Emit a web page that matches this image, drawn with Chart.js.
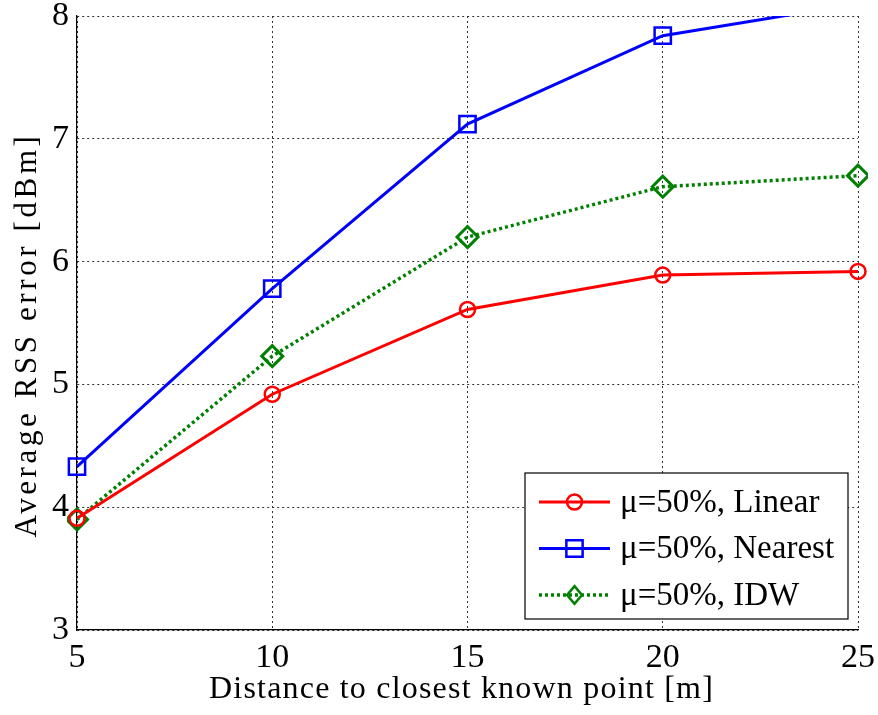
<!DOCTYPE html>
<html lang="en">
    <head>
        <meta charset="UTF-8">
        <title>Average RSS error</title>
        <style>
            body { margin: 0; background: #fff; }
        </style>
    </head>
    <body>
        <canvas id="myChart" width="878" height="715"></canvas>
        <script src="https://cdn.jsdelivr.net/npm/chart.js@4.4.1/dist/chart.umd.min.js"></script>
        <script>
            // values
            const distances = [5, 10, 15, 20, 25];
            const linear = [3.91, 4.92, 5.61, 5.89, 5.92];
            const nearest = [4.33, 5.78, 7.12, 7.84, 8.10];
            const idw = [3.90, 5.23, 6.20, 6.61, 6.70];
            const labels = ['\u03bc=50%, Linear', '\u03bc=50%, Nearest', '\u03bc=50%, IDW'];
            const xTitle = 'Distance to closest known point [m]';
            const yTitle = 'Average RSS error [dBm]';

            const serif = 'Liberation Serif, Times New Roman, serif';

            function toPoints(ys) {
                return distances.map(function (x, i) { return {x: x, y: ys[i]}; });
            }

            function marker(ctx, style, x, y, r) {
                ctx.beginPath();
                if (style === 'circle') {
                    ctx.arc(x, y, r, 0, Math.PI * 2);
                } else if (style === 'rect') {
                    const s = r * Math.SQRT1_2;
                    ctx.rect(x - s, y - s, 2 * s, 2 * s);
                } else {
                    const s = r * Math.SQRT1_2;
                    ctx.moveTo(x, y - s * 1.2);
                    ctx.lineTo(x + s, y);
                    ctx.lineTo(x, y + s * 1.2);
                    ctx.lineTo(x - s, y);
                    ctx.closePath();
                }
                ctx.stroke();
            }

            // axis titles (matlab export spreads the letters a bit) + boxed legend
            const extras = {
                id: 'extras',
                afterDraw: function (chart) {
                    const ctx = chart.ctx;
                    const area = chart.chartArea;
                    ctx.save();
                    ctx.fillStyle = '#000';
                    ctx.textAlign = 'center';
                    ctx.textBaseline = 'alphabetic';

                    ctx.font = '32px ' + serif;
                    ctx.letterSpacing = '1.2px';
                    ctx.fillText(xTitle, (area.left + area.right) / 2 - 6, 698);

                    ctx.save();
                    ctx.translate(36, (area.top + area.bottom) / 2 + 12);
                    ctx.rotate(-Math.PI / 2);
                    ctx.font = '31px ' + serif;
                    ctx.letterSpacing = '3.6px';
                    ctx.fillText(yTitle, 0, 0);
                    ctx.restore();

                    // legend box
                    const w = 323, h = 146;
                    const x0 = area.right - 10 - w;
                    const y0 = area.bottom - 11 - h;
                    ctx.letterSpacing = '0px';
                    ctx.fillStyle = '#fff';
                    ctx.fillRect(x0, y0, w, h);
                    ctx.strokeStyle = '#000';
                    ctx.lineWidth = 1.2;
                    ctx.strokeRect(x0, y0, w, h);
                    ctx.font = '33px ' + serif;
                    ctx.textAlign = 'left';
                    ctx.textBaseline = 'middle';
                    chart.data.datasets.forEach(function (ds, i) {
                        const cy = y0 + 29 + i * 46.5;
                        ctx.strokeStyle = ds.borderColor;
                        ctx.lineWidth = ds.borderWidth;
                        ctx.setLineDash(ds.borderDash || []);
                        ctx.beginPath();
                        ctx.moveTo(x0 + 14, cy);
                        ctx.lineTo(x0 + 85, cy);
                        ctx.stroke();
                        ctx.setLineDash([]);
                        ctx.lineWidth = 2.5;
                        marker(ctx, ds.pointStyle, x0 + 49.5, cy, ds.pointRadius);
                        ctx.fillStyle = '#000';
                        ctx.fillText(ds.label, x0 + 95, cy + 1);
                    });
                    ctx.restore();
                }
            };

            const ctx = document.getElementById('myChart').getContext('2d');
            new Chart(ctx, {
                type: 'line',
                data: {
                    datasets: [{
                        label: labels[0],
                        data: toPoints(linear),
                        borderColor: '#ff0000',
                        borderWidth: 3,
                        pointStyle: 'circle',
                        pointRadius: 7.5,
                        pointBorderWidth: 2.5,
                        pointBackgroundColor: 'rgba(0,0,0,0)',
                        fill: false
                    }, {
                        label: labels[1],
                        data: toPoints(nearest),
                        borderColor: '#0000ff',
                        borderWidth: 3,
                        pointStyle: 'rect',
                        pointRadius: 11.5,
                        pointBorderWidth: 2.5,
                        pointBackgroundColor: 'rgba(0,0,0,0)',
                        fill: false
                    }, {
                        label: labels[2],
                        data: toPoints(idw),
                        borderColor: '#008000',
                        borderWidth: 3.5,
                        borderDash: [3, 3],
                        pointStyle: 'rectRot',
                        pointRadius: 10.5,
                        pointBorderWidth: 3,
                        pointBackgroundColor: 'rgba(0,0,0,0)',
                        fill: false
                    }]
                },
                options: {
                    responsive: false,
                    animation: false,
                    clip: {left: 10, top: 0, right: 10, bottom: 10},
                    layout: {padding: {left: 0, top: 16, right: 20, bottom: 0}},
                    plugins: {
                        legend: {display: false},
                        tooltip: {enabled: false}
                    },
                    scales: {
                        x: {
                            type: 'linear',
                            min: 5,
                            max: 25,
                            afterFit: function (scale) {
                                scale.height = 85;
                                scale.paddingLeft = 0;
                                scale.paddingRight = 0;
                            },
                            ticks: {
                                stepSize: 5,
                                color: '#000',
                                padding: 8,
                                font: {family: serif, size: 34}
                            },
                            grid: {color: '#333', lineWidth: 1, drawTicks: false},
                            border: {display: true, color: '#000', width: 1.2, dash: [2, 3]}
                        },
                        y: {
                            min: 3,
                            max: 8,
                            afterFit: function (scale) {
                                scale.width = 77;
                                scale.paddingTop = 0;
                                scale.paddingBottom = 0;
                            },
                            ticks: {
                                stepSize: 1,
                                color: '#000',
                                padding: 8,
                                font: {family: serif, size: 34}
                            },
                            grid: {color: '#333', lineWidth: 1, drawTicks: false},
                            border: {display: true, color: '#000', width: 1.2, dash: [2, 3]}
                        }
                    }
                },
                plugins: [extras]
            });
        </script>
    </body>
</html>
